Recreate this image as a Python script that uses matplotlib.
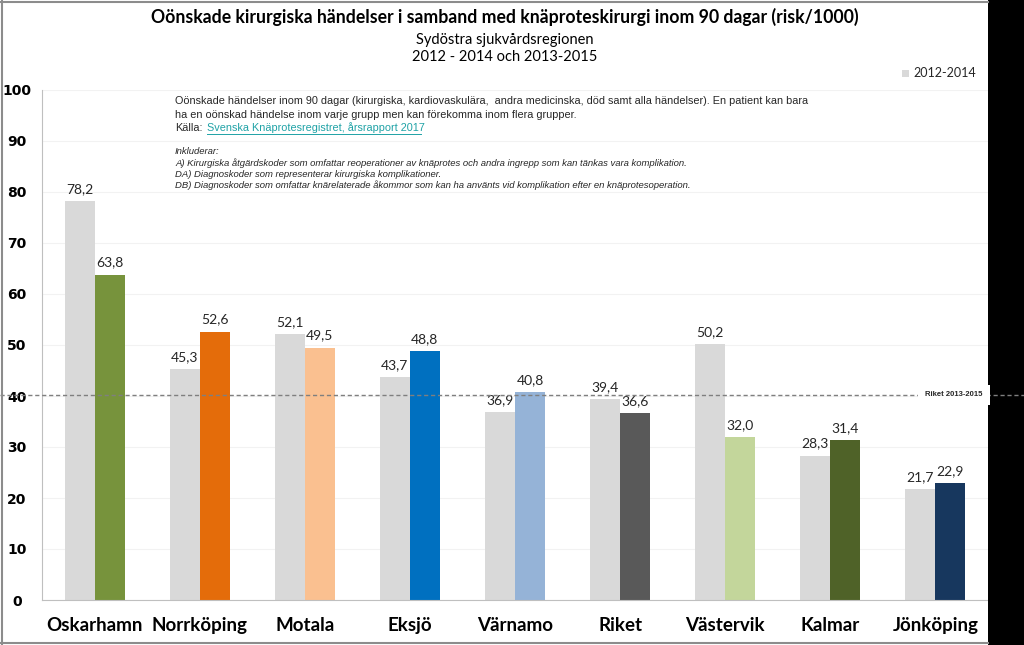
import matplotlib
matplotlib.use("Agg")
import matplotlib.pyplot as plt
from matplotlib.patches import Rectangle
from matplotlib.lines import Line2D
import numpy as np

categories = ["Oskarhamn", "Norrköping", "Motala", "Eksjö", "Värnamo", "Riket",
              "Västervik", "Kalmar", "Jönköping"]
v_2012_2014 = [78.2, 45.3, 52.1, 43.7, 36.9, 39.4, 50.2, 28.3, 21.7]
v_2013_2015 = [63.8, 52.6, 49.5, 48.8, 40.8, 36.6, 32.0, 31.4, 22.9]
colors_2013_2015 = ["#77933c", "#e46c0a", "#fac090", "#0070c0", "#95b3d7",
                    "#595959", "#c3d69b", "#4f6228", "#17375e"]
riket_line = 40.3
yticks = [0, 10, 20, 30, 40, 50, 60, 70, 80, 90, 100]

W, H = 1024, 645
fig = plt.figure(figsize=(W / 100, H / 100), dpi=100)
fig.patch.set_facecolor("white")

# black band on the right and gray frame
fig.add_artist(Rectangle((988 / W, 0), 1 - 988 / W, 1, transform=fig.transFigure,
                         facecolor="black", edgecolor="none", zorder=0.5))
fig.add_artist(Line2D([1.5 / W, 1.5 / W], [0, 1], color="#8c8c8c", lw=1.5))
fig.add_artist(Line2D([0, 988 / W], [1 - 1.5 / H, 1 - 1.5 / H], color="#8c8c8c", lw=1.5))
fig.add_artist(Line2D([0, 988 / W], [2.5 / H, 2.5 / H], color="#8c8c8c", lw=1.5))

ax = fig.add_axes([42 / W, 1 - 600 / H, (988 - 42) / W, (600 - 90) / H])
ax.set_facecolor("none")
x = np.arange(len(categories))
bw = 0.285
b1 = ax.bar(x - bw / 2, v_2012_2014, width=bw, color="#d9d9d9", zorder=2, label="2012-2014")
b2 = ax.bar(x + bw / 2, v_2013_2015, width=bw, color=colors_2013_2015, zorder=2)

for rect, v in zip(list(b1) + list(b2), v_2012_2014 + v_2013_2015):
    ax.text(rect.get_x() + rect.get_width() / 2, v + 1.2, f"{v:.1f}".replace(".", ","),
            ha="center", va="bottom", fontsize=10, family="Lato", color="#262626", zorder=3)

ax.set_xlim(-0.5, len(categories) - 0.5)
ax.set_ylim(0, 100)
ax.set_yticks(yticks)
ax.set_yticklabels([str(t) for t in yticks], fontsize=10, fontweight="bold", family="DejaVu Sans")
ax.set_xticks(x)
ax.set_xticklabels(categories, fontsize=13.5, fontweight="bold", family="Lato")
ax.tick_params(axis="both", length=0)
ax.tick_params(axis="x", pad=12)
ax.tick_params(axis="y", pad=18)
for lab in ax.get_yticklabels():
    lab.set_horizontalalignment("center")
ax.grid(axis="y", color="#f2f2f2", lw=0.8, zorder=0)
for s in ["top", "right"]:
    ax.spines[s].set_visible(False)
ax.spines["left"].set_color("#bfbfbf")
ax.spines["bottom"].set_color("#bfbfbf")

# Riket dashed line across whole figure
ly = 1 - 395 / H
fig.add_artist(Line2D([0, 1], [ly, ly], color="#7f7f7f", lw=1, ls=(0, (3, 2)), zorder=1))
fig.text(954 / W, ly, "Riket 2013-2015", ha="center", va="center", fontsize=5.5,
         fontweight="bold", family="Liberation Sans", color="#262626",
         bbox=dict(facecolor="white", edgecolor="none", pad=5), zorder=5)

# legend
fig.add_artist(Rectangle((902 / W, 1 - 77 / H), 7 / W, 7 / H, transform=fig.transFigure,
                         facecolor="#d9d9d9", edgecolor="none"))
fig.text(913 / W, 1 - 73 / H, "2012-2014", ha="left", va="center", fontsize=9,
         family="Lato", color="#262626")

# titles
fig.text(505 / W, 1 - 17 / H,
         "Oönskade kirurgiska händelser i samband med knäproteskirurgi inom 90 dagar (risk/1000)",
         ha="center", va="center", fontsize=12.7, fontweight="bold", family="Lato", color="black")
fig.text(505 / W, 1 - 40 / H, "Sydöstra sjukvårdsregionen", ha="center", va="center",
         fontsize=10.5, family="Lato", color="black")
fig.text(505 / W, 1 - 57 / H, "2012 - 2014 och 2013-2015", ha="center", va="center",
         fontsize=10.5, family="Lato", color="black")

# annotation
fs1 = 7.8
fig.text(175 / W, 1 - 101 / H,
         "Oönskade händelser inom 90 dagar (kirurgiska, kardiovaskulära,  andra medicinska, död samt alla händelser). En patient kan bara",
         ha="left", va="center", fontsize=fs1, family="Liberation Sans", color="#262626")
fig.text(175 / W, 1 - 115 / H,
         "ha en oönskad händelse inom varje grupp men kan förekomma inom flera grupper.",
         ha="left", va="center", fontsize=fs1, family="Liberation Sans", color="#262626")
fig.text(175 / W, 1 - 128 / H, "Källa:", ha="left", va="center", fontsize=fs1,
         family="Liberation Sans", color="#262626")
fig.text(207 / W, 1 - 128 / H, "Svenska Knäprotesregistret, årsrapport 2017", ha="left",
         va="center", fontsize=fs1, family="Liberation Sans", color="#1fa2a6")
fig.add_artist(Line2D([207 / W, 421 / W], [1 - 134 / H, 1 - 134 / H], color="#1fa2a6", lw=0.7))

italic_lines = [
    "Inkluderar:",
    "A) Kirurgiska åtgärdskoder som omfattar reoperationer av knäprotes och andra ingrepp som kan tänkas vara komplikation.",
    "DA) Diagnoskoder som representerar kirurgiska komplikationer.",
    "DB) Diagnoskoder som omfattar knärelaterade åkommor som kan ha använts vid komplikation efter en knäprotesoperation.",
]
for i, s in enumerate(italic_lines):
    fig.text(175 / W, 1 - (152 + 11 * i) / H, s, ha="left", va="center", fontsize=6.8,
             style="italic", family="Liberation Sans", color="#262626")

fig.savefig("out.png", dpi=100, facecolor="white")
